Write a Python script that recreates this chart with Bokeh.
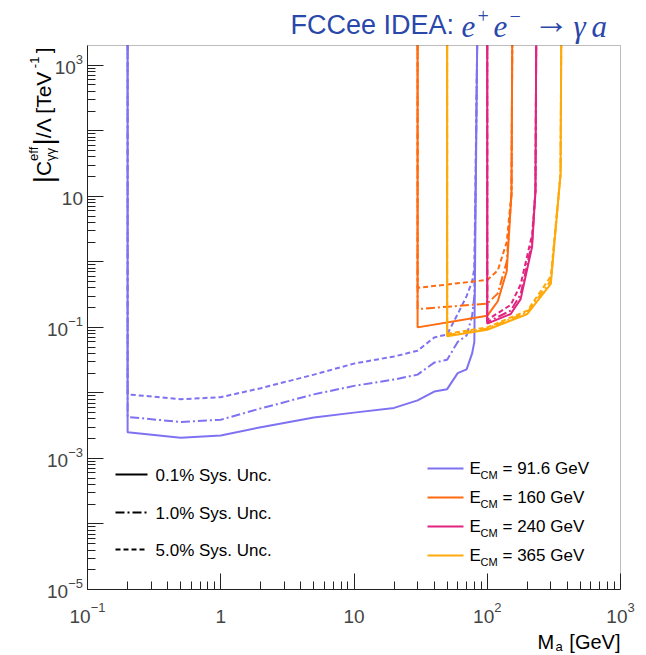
import math
from bokeh.plotting import figure
from bokeh.models import Label, Arrow, FixedTicker, Range1d, BoxAnnotation
from bokeh.embed import file_html
from bokeh.resources import INLINE

# ---------------- data ----------------
mass_91 = [0.2, 0.2, 0.5, 1, 2, 5, 10, 20, 30, 40, 50, 60, 70, 77, 80, 84]
c_91_sys01 = [1e4, 0.0025, 0.00207, 0.00224, 0.0030, 0.0042, 0.0050, 0.0059, 0.0077, 0.0105, 0.0114, 0.020, 0.0229, 0.040, 0.060, 1e4]
c_91_sys1 = [1e4, 0.0043, 0.0036, 0.0039, 0.0058, 0.0095, 0.0128, 0.016, 0.019, 0.029, 0.032, 0.060, 0.075, 0.15, 0.30, 1e4]
c_91_sys5 = [1e4, 0.0095, 0.0080, 0.0086, 0.0118, 0.019, 0.028, 0.036, 0.044, 0.070, 0.078, 0.16, 0.30, 0.50, 0.80, 1e4]

mass_160 = [30, 30, 100, 120, 140, 152, 154]
c_160_sys01 = [1e4, 0.10, 0.15, 0.25, 0.72, 11, 1e4]
c_160_sys1 = [1e4, 0.19, 0.23, 0.33, 1.0, 11, 1e4]
c_160_sys5 = [1e4, 0.40, 0.53, 0.74, 2.0, 11, 1e4]

mass_240 = [100, 100, 150, 178, 217, 230, 233]
c_240_sys01 = [1e4, 0.114, 0.16, 0.27, 1.7, 12, 1e4]
c_240_sys1 = [1e4, 0.12, 0.18, 0.32, 2.0, 12, 1e4]
c_240_sys5 = [1e4, 0.13, 0.22, 0.45, 2.6, 12, 1e4]

mass_365 = [50, 50, 100, 200, 300, 355, 359]
c_365_sys01 = [1e4, 0.073, 0.092, 0.16, 0.46, 22, 1e4]
c_365_sys1 = [1e4, 0.076, 0.096, 0.17, 0.52, 22, 1e4]
c_365_sys5 = [1e4, 0.080, 0.10, 0.18, 0.60, 22, 1e4]

energy_labels = ["91.6 GeV", "160 GeV", "240 GeV", "365 GeV"]
sys_labels = ["0.1% Sys. Unc.", "1.0% Sys. Unc.", "5.0% Sys. Unc."]
x_tick_exps = [-1, 0, 1, 2, 3]
y_tick_exps = [-5, -3, -1, 1, 3]

X_MIN, X_MAX = 0.1, 1000.0
Y_MIN, Y_MAX = 1e-5, 2000.0

# ---------------- styling / geometry ----------------
colors = ["#7F72F2", "#FF6B10", "#E02480", "#FFA90A"]
dashes = ["solid", "9 3 2 3", "5 3"]

series = [
    (mass_91, [c_91_sys01, c_91_sys1, c_91_sys5]),
    (mass_160, [c_160_sys01, c_160_sys1, c_160_sys5]),
    (mass_240, [c_240_sys01, c_240_sys1, c_240_sys5]),
    (mass_365, [c_365_sys01, c_365_sys1, c_365_sys5]),
]

W, H = 646, 655
PL, PT, PR, PB = 87, 45, 620, 589  # data-area box in page pixels

dxd = (PR - PL) / math.log10(X_MAX / X_MIN)
dyd = (PB - PT) / math.log10(Y_MAX / Y_MIN)
x_start = 10 ** (math.log10(X_MIN) - PL / dxd)
x_end = 10 ** (math.log10(X_MAX) + (W - PR) / dxd)
y_start = 10 ** (math.log10(Y_MIN) - (H - PB) / dyd)
y_end = 10 ** (math.log10(Y_MAX) + PT / dyd)

p = figure(width=W, height=H, x_axis_type="log", y_axis_type="log",
           x_range=Range1d(x_start, x_end), y_range=Range1d(y_start, y_end),
           output_backend="svg", toolbar_location=None, min_border=0)
p.background_fill_color = "white"
p.border_fill_color = "white"
p.outline_line_color = None
p.xgrid.visible = False
p.ygrid.visible = False

p.xaxis.ticker = FixedTicker(ticks=[10.0 ** e for e in x_tick_exps],
                             minor_ticks=[k * 10.0 ** e for e in range(-1, 3) for k in range(2, 10)])
p.yaxis.ticker = FixedTicker(ticks=[10.0 ** e for e in range(-5, 4)],
                             minor_ticks=[k * 10.0 ** e for e in range(-5, 3) for k in range(2, 10)])
p.xaxis.fixed_location = Y_MIN
p.xaxis.bounds = (X_MIN, X_MAX)
p.yaxis.fixed_location = X_MIN
p.yaxis.bounds = (Y_MIN, Y_MAX)
for ax in (p.xaxis, p.yaxis):
    ax.major_label_text_font_size = "2px"
    ax.major_label_text_alpha = 0.0
    ax.major_label_standoff = 0
    ax.major_tick_in = 16
    ax.major_tick_out = 0
    ax.minor_tick_in = 8
    ax.minor_tick_out = 0
    ax.axis_line_color = "#222222"
    ax.major_tick_line_color = "#222222"
    ax.minor_tick_line_color = "#222222"

p.add_layout(BoxAnnotation(left=X_MIN, right=X_MAX, bottom=Y_MIN, top=Y_MAX,
                           fill_alpha=0.0, fill_color=None, line_color="#222222",
                           line_width=1))

for (m, vals), col in zip(series, colors):
    for v, d in zip(vals, dashes):
        p.line(m, [min(c, Y_MAX) for c in v], line_color=col, line_width=2, line_dash=d)


def lab(text, ax, ay, size, font="Liberation Sans", align="left", baseline="middle",
        angle=0.0, color="black", style="normal"):
    p.add_layout(Label(x=ax, y=H - ay, x_units="screen", y_units="screen", text=text,
                       text_font=font, text_font_size=f"{size}px", text_align=align,
                       text_baseline=baseline, angle=angle, text_color=color,
                       text_font_style=style))


# ---------------- tick labels ----------------
TS, ES = 19, 13
DIG = 0.556


def exp_text(e):
    return ("\u2212" if e < 0 else "") + str(abs(e))


def exp_width(e):
    return sum((0.584 if ch == "\u2212" else DIG) * ES for ch in exp_text(e))


XL_MAIN, XL_EXP = 616, 607
for e in x_tick_exps:
    if e in (0, 1):
        p.add_layout(Label(x=10.0 ** e, y=H - XL_MAIN, x_units="data", y_units="screen",
                           text="1" if e == 0 else "10",
                           text_font="Liberation Sans", text_font_size=f"{TS}px",
                           text_align="center", text_baseline="middle"))
    else:
        w10 = 2 * DIG * TS
        tot = w10 + exp_width(e)
        p.add_layout(Label(x=10.0 ** e, y=H - XL_MAIN, x_units="data", y_units="screen",
                           text="10", x_offset=-tot / 2, text_font="Liberation Sans",
                           text_font_size=f"{TS}px", text_align="left",
                           text_baseline="middle"))
        p.add_layout(Label(x=10.0 ** e, y=H - XL_EXP, x_units="data", y_units="screen",
                           text=exp_text(e), x_offset=-tot / 2 + w10,
                           text_font="Liberation Sans", text_font_size=f"{ES}px",
                           text_align="left", text_baseline="middle"))

YL_RIGHT = PL - 4.5
for e in y_tick_exps:
    ew = 0 if e == 1 else exp_width(e)
    p.add_layout(Label(x=YL_RIGHT - ew, y=10.0 ** e, x_units="screen", y_units="data",
                       text="10", y_offset=-2, text_font="Liberation Sans",
                       text_font_size=f"{TS}px", text_align="right", text_baseline="middle"))
    if e != 1:
        p.add_layout(Label(x=YL_RIGHT, y=10.0 ** e, x_units="screen", y_units="data",
                           text=exp_text(e), y_offset=6, text_font="Liberation Sans",
                           text_font_size=f"{ES}px", text_align="right",
                           text_baseline="middle"))

# ---------------- axis titles ----------------
lab("[GeV]", 620, 641, 20, align="right")
lab("a", 555, 646, 13)
lab("M", 537, 641, 20)

# y title, rotated, laid out from its top end downwards
A = math.pi / 2
CX = 42.5
FS, SS, BS = 21, 13, 28
pos = 47
w_close = 0.278 * FS
w_m1 = (0.584 + 0.556) * SS
w_main = 3.335 * FS
w_bar = 0.26 * BS
w_eff = 1.112 * SS
w_C = 0.722 * FS
pos += w_close; y_close = pos
pos += w_m1; y_m1 = pos
pos += w_main; y_main = pos
pos += w_bar; y_bar2 = pos
pos += w_eff + 1; y_eff = pos
pos += w_C; y_C = pos
pos += w_bar; y_bar1 = pos
lab("|", CX, y_bar1, BS, angle=A)
lab("C", CX, y_C, FS, angle=A)
lab("eff", CX - 10, y_eff, SS, angle=A)
lab("\u03b3\u03b3", CX + 7, y_eff, SS, angle=A)
lab("|", CX, y_bar2, BS, angle=A)
lab("/\u039b [TeV", CX, y_main, FS, angle=A)
lab("-1", CX - 9, y_m1, SS, angle=A)
lab("]", CX, y_close, FS, angle=A)

# ---------------- title ----------------
TC = "#2A47AA"
SER = "Liberation Serif"
lab("FCCee IDEA:", 290, 24, 27, color=TC)
lab("e", 461, 26, 31, font=SER, style="italic", color=TC)
lab("+", 477, 15, 20, font=SER, color=TC)
lab("e", 493, 26, 31, font=SER, style="italic", color=TC)
lab("\u2212", 509, 15, 20, font=SER, color=TC)
lab("\u2192", 533, 20, 36, font=SER, color=TC)
lab("\u03b3", 573, 26, 31, font=SER, style="italic", color=TC)
lab("a", 591, 26, 31, font=SER, style="italic", color=TC)

# ---------------- legends ----------------
sys_rows = [474, 512, 549]
for txt, d, yy in zip(sys_labels, dashes, sys_rows):
    p.add_layout(Arrow(end=None, x_start=115, y_start=H - yy, x_end=147, y_end=H - yy,
                       start_units="screen", end_units="screen", line_color="black",
                       line_width=2, line_dash=d))
    lab(txt, 155, yy + 1, 17)

e_rows = [468, 497, 526, 555]
for txt, col, yy in zip(energy_labels, colors, e_rows):
    p.add_layout(Arrow(end=None, x_start=427, y_start=H - yy, x_end=463, y_end=H - yy,
                       start_units="screen", end_units="screen", line_color=col,
                       line_width=2))
    lab("E", 469, yy, 17)
    lab("CM", 480, yy + 6, 11)
    lab("= " + txt, 502, yy, 17)

open("out.html", "w").write(file_html(p, INLINE))
